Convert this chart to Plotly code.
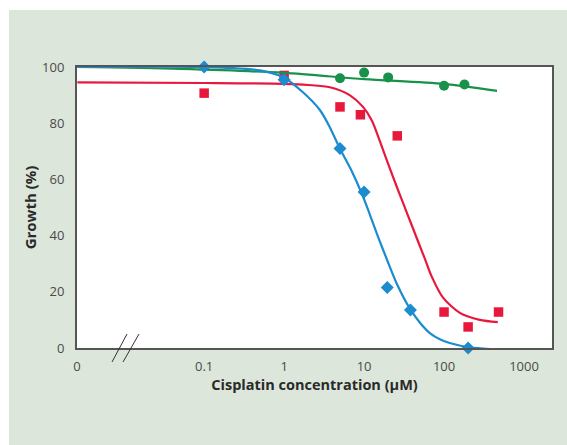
import plotly.graph_objects as go

# ---- data ----
blue_x = [0.1, 1, 5, 10, 19.5, 38, 200]
blue_y = [100, 95.5, 71, 55.5, 21.5, 13.5, 0]

red_x = [0.1, 1, 5, 9, 26, 100, 200, 480]
red_y = [90.7, 97, 85.8, 83, 75.5, 12.8, 7.5, 12.8]

green_x = [5, 10, 20, 100, 180]
green_y = [96, 98, 96.3, 93.3, 93.8]

# fitted curves, points
blue_fit_x = [0.0026, 0.1, 0.5, 1, 1.72, 2.8, 3.74, 4.98, 7, 9.66, 11.8, 15, 19.3, 26, 37.4, 50, 66.4, 90, 118, 210, 447]
blue_fit_y = [100, 100, 98.8, 96.2, 91, 84.7, 78.5, 71, 63, 54, 47.5, 39.5, 31.5, 22.5, 14, 9, 5.3, 3, 1.8, 0.2, -0.5]

red_fit_x = [0.0026, 0.1, 1, 2, 3.74, 6.6, 9.7, 12.5, 15.8, 20, 25.7, 29.7, 40.7, 49.8, 57.5, 70.4, 96.6, 157.6, 280, 470]
red_fit_y = [94.5, 94.3, 94, 93.6, 92.8, 90, 85.8, 81, 73.5, 65.5, 57.3, 52.7, 42.7, 36.3, 31.8, 25.3, 18, 12.5, 10, 9.2]

green_fit_x = [0.0026, 0.05, 1, 10, 100, 460]
green_fit_y = [100, 99.3, 97.9, 95.7, 94, 91.5]

x_tickvals = [10 ** -2.59, 0.1, 1, 10, 100, 1000]
x_ticktext = ["0", "0.1", "1", "10", "100", "1000"]
y_tickvals = [0, 20, 40, 60, 80, 100]

BLUE = "#1a8ccf"
RED = "#e8183c"
GREEN = "#18924a"
BG = "#dce6da"
FONT = "Open Sans"

fig = go.Figure()

fig.add_trace(go.Scatter(x=red_fit_x, y=red_fit_y, mode="lines",
                         line=dict(color=RED, width=2.2, shape="spline", smoothing=0.8),
                         hoverinfo="skip", showlegend=False))
fig.add_trace(go.Scatter(x=red_x, y=red_y, mode="markers", marker=dict(symbol="square", size=9.5, color=RED),
                         cliponaxis=False, showlegend=False))
fig.add_trace(go.Scatter(x=green_fit_x, y=green_fit_y, mode="lines",
                         line=dict(color=GREEN, width=2.2, shape="spline", smoothing=0.8),
                         hoverinfo="skip", showlegend=False))
fig.add_trace(go.Scatter(x=green_x, y=green_y, mode="markers", marker=dict(symbol="circle", size=10, color=GREEN),
                         cliponaxis=False, showlegend=False))
fig.add_trace(go.Scatter(x=blue_fit_x, y=blue_fit_y, mode="lines",
                         line=dict(color=BLUE, width=2.2, shape="spline", smoothing=0.8),
                         hoverinfo="skip", showlegend=False))
fig.add_trace(go.Scatter(x=blue_x, y=blue_y, mode="markers", marker=dict(symbol="diamond", size=10, color=BLUE),
                         cliponaxis=False, showlegend=False))

shapes = [
    # white border strips around the green panel
    dict(type="rect", xref="paper", yref="paper", x0=-0.2, x1=(9 - 77) / 475, y0=-0.4, y1=1.3,
         fillcolor="white", line=dict(width=0), layer="below"),
    dict(type="rect", xref="paper", yref="paper", x0=-0.2, x1=1.1, y0=(348 - 10) / 281, y1=1.3,
         fillcolor="white", line=dict(width=0), layer="below"),
    # axis break marks
    dict(type="line", xref="paper", yref="paper", x0=(112 - 77) / 475, y0=(348 - 362) / 281,
         x1=(127 - 77) / 475, y1=(348 - 334) / 281, line=dict(color="#333333", width=1)),
    dict(type="line", xref="paper", yref="paper", x0=(123 - 77) / 475, y0=(348 - 362) / 281,
         x1=(139 - 77) / 475, y1=(348 - 334) / 281, line=dict(color="#333333", width=1)),
]

fig.update_layout(
    width=567, height=445,
    margin=dict(l=77, r=15, t=67, b=97),
    paper_bgcolor=BG, plot_bgcolor="white",
    font=dict(family=FONT, color="#444444"),
    shapes=shapes,
    showlegend=False,
)

fig.update_xaxes(
    type="log", range=[-2.59, 3.35],
    tickvals=x_tickvals, ticktext=x_ticktext,
    ticks="outside", ticklen=5, tickcolor="rgba(0,0,0,0)",
    tickfont=dict(size=13, color="#4a4a4a"),
    showgrid=False, zeroline=False,
    showline=True, linecolor="#555555", linewidth=2, mirror=True,
    title=dict(text="<b>Cisplatin concentration (µM)</b>", font=dict(size=14.5, color="#2a2a2a"), standoff=2),
)
fig.update_yaxes(
    range=[0, 100],
    tickvals=y_tickvals,
    ticks="outside", ticklen=8, tickcolor="rgba(0,0,0,0)",
    tickfont=dict(size=13, color="#4a4a4a"),
    showgrid=False, zeroline=False,
    showline=True, linecolor="#555555", linewidth=2, mirror=True,
    title=dict(text="<b>Growth (%)</b>", font=dict(size=15, color="#2a2a2a"), standoff=2),
)

fig.write_html("out.html")
